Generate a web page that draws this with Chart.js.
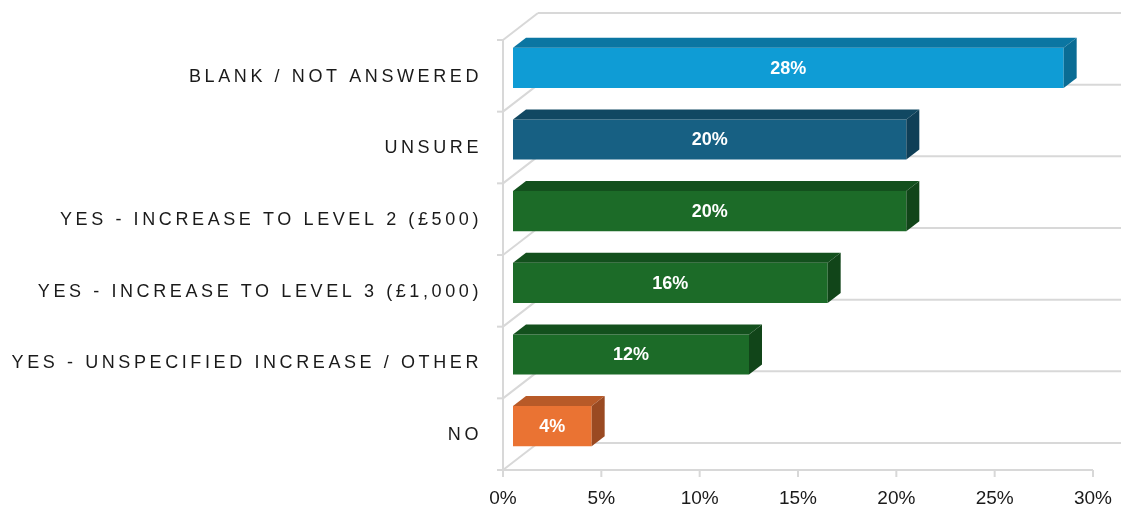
<!DOCTYPE html>
<html lang="en">
<head>
    <meta charset="utf-8">
    <title>Survey Responses</title>
    <script src="https://cdn.jsdelivr.net/npm/chart.js"></script>
    <style>
        body { margin: 0; background: #fff; }
        #wrap { width: 1121px; height: 509px; }
    </style>
</head>
<body>
    <div id="wrap"><canvas id="myChart"></canvas></div>

    <script>
        // chart data
        const categories = [
            'BLANK / NOT ANSWERED',
            'UNSURE',
            'YES - INCREASE TO LEVEL 2 (£500)',
            'YES - INCREASE TO LEVEL 3 (£1,000)',
            'YES - UNSPECIFIED INCREASE / OTHER',
            'NO'
        ];
        const percentages = [28, 20, 20, 16, 12, 4];
        const xTicks = [0, 5, 10, 15, 20, 25, 30];

        // face colours for each bar: front, top, right side
        const frontColors = ['#0f9cd5', '#176083', '#1c6b28', '#1c6b28', '#1c6b28', '#ea7333'];
        const topColors   = ['#0b76a2', '#114862', '#13501d', '#13501d', '#13501d', '#b85a28'];
        const sideColors  = ['#0a6c94', '#0f3f57', '#114519', '#114519', '#114519', '#9a4a22'];

        const FONT = '"Liberation Sans", Arial, sans-serif';
        const GRID = '#d8d8d8';
        const WALL_DX = 35, WALL_DY = -27;   // back wall offset from the front plane
        const BAR_DX = 10, BAR_DY = -8;      // bars sit a little behind the front plane
        const DEPTH_DX = 13, DEPTH_DY = -10; // bar thickness

        function line(ctx, x1, y1, x2, y2) {
            ctx.beginPath();
            ctx.moveTo(x1, y1);
            ctx.lineTo(x2, y2);
            ctx.stroke();
        }

        function poly(ctx, pts, color) {
            ctx.beginPath();
            ctx.moveTo(pts[0][0], pts[0][1]);
            for (let i = 1; i < pts.length; i++) ctx.lineTo(pts[i][0], pts[i][1]);
            ctx.closePath();
            ctx.fillStyle = color;
            ctx.fill();
        }

        const depthPlugin = {
            id: 'depth',
            beforeDatasetsDraw(chart) {
                const { ctx, chartArea: a, scales: { x, y } } = chart;
                const band = (a.bottom - a.top) / categories.length;
                const bounds = [];
                for (let i = 0; i <= categories.length; i++) bounds.push(a.top + band * i);

                ctx.save();
                ctx.strokeStyle = GRID;
                ctx.lineWidth = 2;

                // back wall lines and left wall diagonals
                bounds.forEach(b => {
                    line(ctx, a.left + WALL_DX, b + WALL_DY, chart.width, b + WALL_DY);
                    line(ctx, a.left, b, a.left + WALL_DX, b + WALL_DY);
                    line(ctx, a.left - 6, b, a.left, b);
                });
                // left front edge and floor front edge
                line(ctx, a.left, a.top, a.left, a.bottom + 7);
                line(ctx, a.left, a.bottom, x.getPixelForValue(xTicks[xTicks.length - 1]), a.bottom);
                xTicks.forEach(v => {
                    const px = x.getPixelForValue(v);
                    line(ctx, px, a.bottom, px, a.bottom + 7);
                });

                // axis labels
                ctx.fillStyle = '#1a1a1a';
                ctx.font = '19px ' + FONT;
                ctx.textAlign = 'center';
                ctx.textBaseline = 'middle';
                xTicks.forEach(v => {
                    ctx.fillText(v + '%', x.getPixelForValue(v), a.bottom + 29);
                });

                ctx.font = '18px ' + FONT;
                ctx.letterSpacing = '3.6px';
                ctx.textAlign = 'right';
                categories.forEach((c, i) => {
                    ctx.fillText(c, a.left - 21, y.getPixelForValue(i) + 1);
                });
                ctx.restore();

                ctx.save();
                ctx.translate(BAR_DX, BAR_DY);
            },
            afterDatasetsDraw(chart) {
                const { ctx } = chart;
                const meta = chart.getDatasetMeta(0);
                meta.data.forEach((bar, i) => {
                    const p = bar.getProps(['x', 'y', 'base', 'height'], true);
                    const top = p.y - p.height / 2;
                    const bottom = p.y + p.height / 2;
                    poly(ctx, [[p.base, top], [p.x, top], [p.x + DEPTH_DX, top + DEPTH_DY], [p.base + DEPTH_DX, top + DEPTH_DY]], topColors[i]);
                    poly(ctx, [[p.x, top], [p.x + DEPTH_DX, top + DEPTH_DY], [p.x + DEPTH_DX, bottom + DEPTH_DY], [p.x, bottom]], sideColors[i]);

                    ctx.fillStyle = '#ffffff';
                    ctx.font = 'bold 18px ' + FONT;
                    ctx.textAlign = 'center';
                    ctx.textBaseline = 'middle';
                    ctx.fillText(percentages[i] + '%', (p.base + p.x) / 2, p.y + 1);
                });
                ctx.restore();
            }
        };

        const ctx = document.getElementById('myChart').getContext('2d');
        new Chart(ctx, {
            type: 'bar',
            data: {
                labels: categories,
                datasets: [{
                    data: percentages,
                    backgroundColor: frontColors,
                    borderWidth: 0,
                    categoryPercentage: 1,
                    barPercentage: 0.56
                }]
            },
            options: {
                indexAxis: 'y',
                responsive: true,
                maintainAspectRatio: false,
                animation: false,
                layout: { padding: { left: 503, right: 28, top: 40, bottom: 39 } },
                scales: {
                    x: { min: 0, max: 30, display: false },
                    y: { display: false }
                },
                plugins: {
                    legend: { display: false },
                    tooltip: { enabled: false }
                }
            },
            plugins: [depthPlugin]
        });
    </script>
</body>
</html>
